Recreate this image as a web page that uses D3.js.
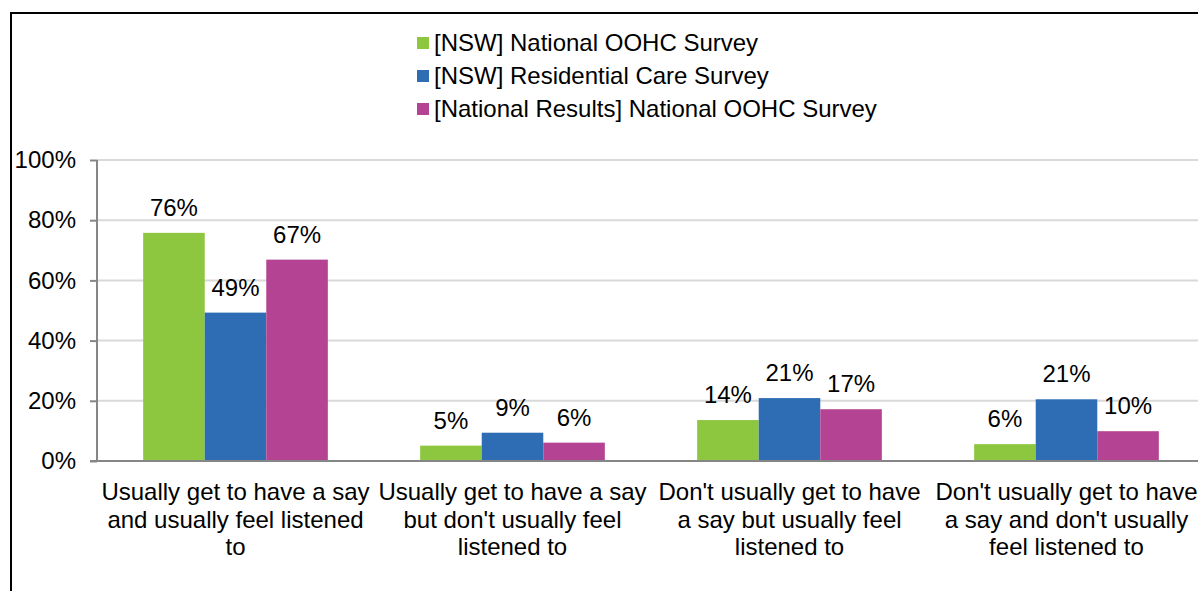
<!DOCTYPE html>
<html>
<head>
<meta charset="utf-8">
<script src="https://cdnjs.cloudflare.com/ajax/libs/d3/7.8.5/d3.min.js"></script>
<style>
  html, body { margin: 0; padding: 0; background: #fff; }
  svg { display: block; font-family: "Liberation Sans", Arial, sans-serif; }
</style>
</head>
<body>
<div id="chart"></div>
<script>
// Chart data
const categories = [
    ['Usually get to have a say', 'and usually feel listened', 'to'],
    ['Usually get to have a say', "but don't usually feel", 'listened to'],
    ["Don't usually get to have", 'a say but usually feel', 'listened to'],
    ["Don't usually get to have", "a say and don't usually", 'feel listened to']
];
const seriesNames = [
    '[NSW] National OOHC Survey',
    '[NSW] Residential Care Survey',
    '[National Results] National OOHC Survey'
];
const nswOohc = [75.8, 5.1, 13.6, 5.6];
const nswResidential = [49.3, 9.4, 20.9, 20.5];
const nationalOohc = [66.9, 6.1, 17.2, 9.9];
const yTicks = [0, 20, 40, 60, 80, 100];

const colors = ['#8dc63f', '#2e6db4', '#b54393'];
const seriesValues = [nswOohc, nswResidential, nationalOohc];

const width = 1198, height = 591;
const margin = { left: 97, right: -7, top: 160, bottom: 130 };
const fontSize = '24px';

const svg = d3.select('#chart')
    .append('svg')
    .attr('width', width)
    .attr('height', height);

// outer frame (runs off the right and bottom edge)
svg.append('rect')
    .attr('x', 11)
    .attr('y', 13)
    .attr('width', width + 20)
    .attr('height', height + 20)
    .attr('fill', 'none')
    .attr('stroke', '#000')
    .attr('stroke-width', 2);

const x = d3.scaleBand()
    .domain(d3.range(categories.length))
    .range([margin.left, width - margin.right]);

const inner = d3.scaleBand()
    .domain(d3.range(seriesNames.length))
    .range([0, x.bandwidth()])
    .paddingInner(0)
    .paddingOuter(0.75);

const y = d3.scaleLinear()
    .domain([0, 100])
    .range([461, margin.top]);

// gridlines
svg.append('g')
    .selectAll('line')
    .data(yTicks.slice(1))
    .enter()
    .append('line')
    .attr('x1', margin.left)
    .attr('x2', width)
    .attr('y1', d => y(d))
    .attr('y2', d => y(d))
    .attr('stroke', '#d9d9d9')
    .attr('stroke-width', 2);

// y axis
const yAxis = svg.append('g')
    .attr('transform', `translate(${margin.left},0)`)
    .call(d3.axisLeft(y).tickValues(yTicks).tickSize(7).tickPadding(14).tickFormat(d => d + '%'));
yAxis.select('.domain').attr('stroke', '#868686').attr('stroke-width', 2).attr('d', `M0,${y(0)}V${y(100)}`);
yAxis.selectAll('.tick line').attr('stroke', '#868686').attr('stroke-width', 2);
yAxis.selectAll('.tick text')
    .attr('fill', '#000')
    .style('font-size', fontSize)
    .style('font-family', '"Liberation Sans", Arial, sans-serif');

// bars
const groups = svg.append('g')
    .selectAll('g')
    .data(categories)
    .enter()
    .append('g')
    .attr('transform', (d, i) => `translate(${x(i)},0)`);

groups.each(function(cat, ci) {
    const g = d3.select(this);
    seriesValues.forEach((vals, si) => {
        g.append('rect')
            .attr('x', inner(si))
            .attr('y', y(vals[ci]))
            .attr('width', inner.bandwidth())
            .attr('height', y(0) - y(vals[ci]))
            .attr('fill', colors[si]);
        g.append('text')
            .attr('x', inner(si) + inner.bandwidth() / 2)
            .attr('y', y(vals[ci]) - 17)
            .attr('text-anchor', 'middle')
            .style('font-size', fontSize)
            .text(Math.round(vals[ci]) + '%');
    });
});

// x axis line
svg.append('line')
    .attr('x1', margin.left - 7)
    .attr('x2', width)
    .attr('y1', y(0))
    .attr('y2', y(0))
    .attr('stroke', '#868686')
    .attr('stroke-width', 2);

// category labels
groups.each(function(cat) {
    const t = d3.select(this).append('text')
        .attr('text-anchor', 'middle')
        .style('font-size', fontSize);
    cat.forEach((line, li) => {
        t.append('tspan')
            .attr('x', x.bandwidth() / 2)
            .attr('y', 500 + li * 27.5)
            .text(line);
    });
});

// legend
const legend = svg.append('g')
    .selectAll('g')
    .data(seriesNames)
    .enter()
    .append('g')
    .attr('transform', (d, i) => `translate(417,${37 + i * 33})`);

legend.append('rect')
    .attr('x', 0)
    .attr('y', 0)
    .attr('width', 12)
    .attr('height', 12)
    .attr('fill', (d, i) => colors[i]);

legend.append('text')
    .attr('x', 17)
    .attr('y', 14)
    .style('font-size', fontSize)
    .text(d => d);
</script>
</body>
</html>
